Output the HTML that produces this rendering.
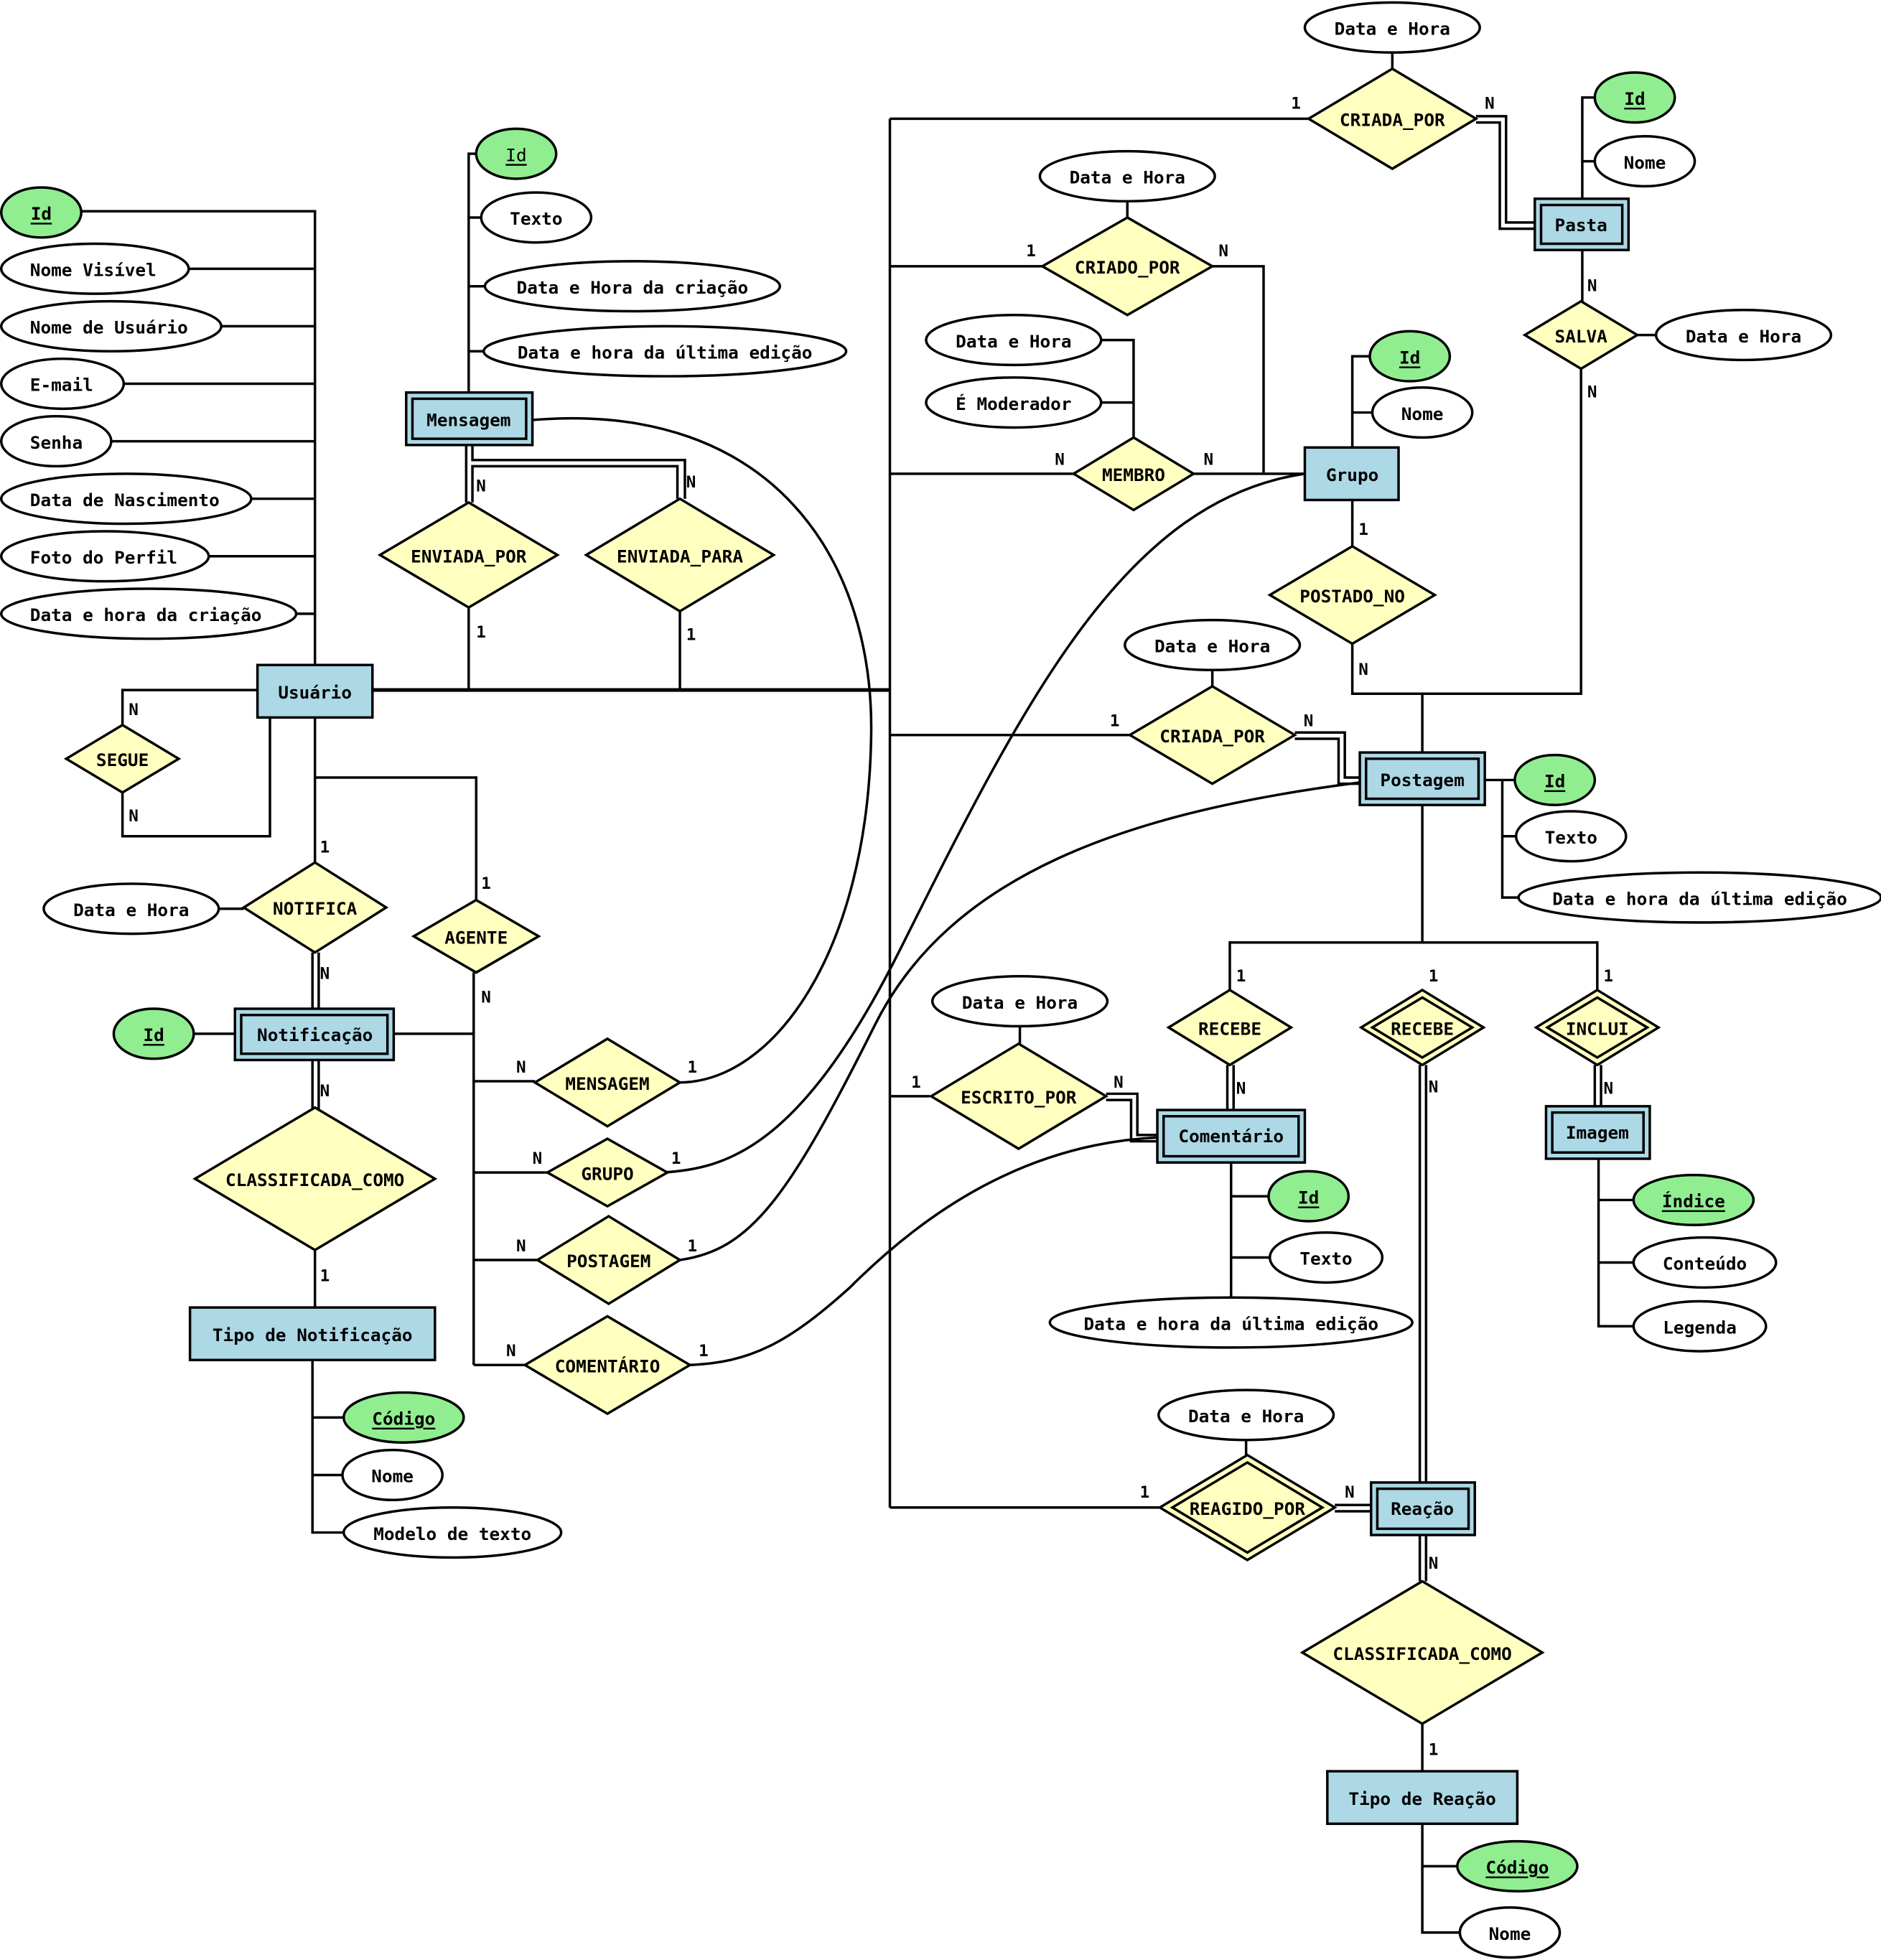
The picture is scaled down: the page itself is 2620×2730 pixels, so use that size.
<!DOCTYPE html>
<html><head><meta charset="utf-8"><style>
html,body{margin:0;padding:0;background:#fff}
svg{display:block}
text{font-family:"DejaVu Sans Mono","Liberation Mono",monospace;font-weight:bold;font-size:14px;fill:#000}
.l{font-size:13px}
</style></head><body>
<svg width="2620" height="2730" viewBox="0 0 1505 1568" preserveAspectRatio="none" xmlns="http://www.w3.org/2000/svg">
<g fill="none" stroke="#000" stroke-width="2">
<!-- Usuario attrs -->
<path d="M65,169H252V532M150,215H252M177,261H252M99,307H252M89,353H252M201,399H252M167,445H252M237,491H252"/>
<!-- Usuario main line -->
<path d="M298,552H712" stroke-width="3"/>
<path d="M712,95V1206"/>
<!-- SEGUE -->
<path d="M206,552H98V580M98,634V669H216V574"/>
<!-- Mensagem attrs -->
<path d="M375,314V123H381M375,174H385M375,229H388M375,281H387"/>
<path d="M373,356V402M378,356V368H548V399M542,399V373H378V402"/>
<path d="M375,486V552M544,489V552"/>
<path d="M426,336C620,320 700,450 697,590C694,760 620,866 543,866"/>
<!-- top CRIADA_POR -->
<path d="M712,95H1048M1114,42V55M1181,93H1205V178H1228M1181,98H1200V183H1228"/>
<path d="M1266,159V78H1276M1266,129H1276M1266,200V241M1310,268H1325M1265,295V555H1082V515M1138,555V602"/>
<!-- CRIADO_POR -->
<path d="M712,213H834M902,161V174M970,213H1011V378"/>
<!-- MEMBRO -->
<path d="M712,379H860M881,272H907V350M881,322H907M955,379H1044"/>
<path d="M1082,358V285H1096M1082,330H1098M1082,400V437"/>
<path d="M1044,379C900,400 820,560 720,760C640,920 580,935 530,938"/>
<!-- CRIADA_POR 3 -->
<path d="M712,588H904M970,536V549M1036,586H1076V622H1088M1036,591H1071V627H1088"/>
<path d="M1188,624H1213M1202,624V718H1215M1202,669H1213"/>
<path d="M1088,626C900,650 760,700 700,820C630,960 600,1000 544,1008"/>
<path d="M1138,644V754M984,792V754H1278V792"/>
<path d="M982,852V888M987,852V888M1136,852V1186M1141,852V1186M1276,852V885M1281,852V885"/>
<path d="M985,930V1038M985,957H1015M985,1006H1016"/>
<path d="M1279,927V1061H1307M1279,960H1307M1279,1010H1307"/>
<!-- ESCRITO_POR -->
<path d="M712,877H744M816,821V835M885,875H910V908H926M885,880H905V913H926"/>
<path d="M926,910C820,915 740,970 680,1030C630,1075 600,1090 552,1092"/>
<!-- REAGIDO_POR -->
<path d="M712,1206H928M997,1152V1164M1068,1204H1097M1068,1209H1097"/>
<path d="M1136,1228V1265M1141,1228V1265M1138,1379V1417M1138,1459V1546H1168M1138,1493H1166"/>
<!-- left middle -->
<path d="M252,574V690M252,622H381V720M175,727H195M250,762V807M255,762V807"/>
<path d="M155,827H188M315,827H379" />
<path d="M379,778V1092M379,865H428M379,938H438M379,1008H430M379,1092H420"/>
<path d="M250,848V887M255,848V887M252,1000V1046M250,1088V1226H275M250,1134H275M250,1180H274"/>
</g>
<!-- ellipses -->
<g stroke="#000" stroke-width="2">
<g fill="#90ee90">
<ellipse cx="33" cy="170" rx="32" ry="20"/><ellipse cx="413" cy="123" rx="32" ry="20"/>
<ellipse cx="1308" cy="78" rx="32" ry="20"/><ellipse cx="1128" cy="285" rx="32" ry="20"/>
<ellipse cx="1244" cy="624" rx="32" ry="20"/><ellipse cx="1047" cy="957" rx="32" ry="20"/>
<ellipse cx="1355" cy="960" rx="48" ry="20"/><ellipse cx="1214" cy="1493" rx="48" ry="20"/>
<ellipse cx="123" cy="827" rx="32" ry="20"/><ellipse cx="323" cy="1134" rx="48" ry="20"/>
</g>
<g fill="#fff">
<ellipse cx="76" cy="215" rx="75" ry="20"/><ellipse cx="89" cy="261" rx="88" ry="20"/>
<ellipse cx="50" cy="307" rx="49" ry="20"/><ellipse cx="45" cy="353" rx="44" ry="20"/>
<ellipse cx="101" cy="399" rx="100" ry="20"/><ellipse cx="84" cy="445" rx="83" ry="20"/>
<ellipse cx="119" cy="491" rx="118" ry="20"/>
<ellipse cx="429" cy="174" rx="44" ry="20"/><ellipse cx="506" cy="229" rx="118" ry="20"/>
<ellipse cx="532" cy="281" rx="145" ry="20"/>
<ellipse cx="1114" cy="22" rx="70" ry="20"/><ellipse cx="1316" cy="129" rx="40" ry="20"/>
<ellipse cx="1395" cy="268" rx="70" ry="20"/><ellipse cx="902" cy="141" rx="70" ry="20"/>
<ellipse cx="811" cy="272" rx="70" ry="20"/><ellipse cx="811" cy="322" rx="70" ry="20"/>
<ellipse cx="1138" cy="330" rx="40" ry="20"/><ellipse cx="970" cy="516" rx="70" ry="20"/>
<ellipse cx="1257" cy="669" rx="44" ry="20"/><ellipse cx="1360" cy="718" rx="145" ry="20"/>
<ellipse cx="1061" cy="1006" rx="45" ry="20"/><ellipse cx="985" cy="1058" rx="145" ry="20"/>
<ellipse cx="1364" cy="1010" rx="57" ry="20"/><ellipse cx="1360" cy="1061" rx="53" ry="20"/>
<ellipse cx="816" cy="801" rx="70" ry="20"/><ellipse cx="997" cy="1132" rx="70" ry="20"/>
<ellipse cx="1208" cy="1546" rx="40" ry="20"/>
<ellipse cx="105" cy="727" rx="70" ry="20"/><ellipse cx="314" cy="1180" rx="40" ry="20"/>
<ellipse cx="362" cy="1226" rx="87" ry="20"/>
</g>
<!-- diamonds -->
<g fill="#ffffc0">
<polygon points="98,580 143,607 98,634 53,607"/>
<polygon points="375,402 446,444 375,486 304,444"/>
<polygon points="544,399 619,444 544,489 469,444"/>
<polygon points="1114,55 1181,95 1114,135 1047,95"/>
<polygon points="1265,241 1310,268 1265,295 1220,268"/>
<polygon points="902,174 970,213 902,252 834,213"/>
<polygon points="907,350 955,379 907,408 859,379"/>
<polygon points="1082,437 1148,476 1082,515 1016,476"/>
<polygon points="970,549 1036,588 970,627 904,588"/>
<polygon points="984,792 1033,822 984,852 935,822"/>
<polygon points="1138,792 1187,822 1138,852 1089,822"/>
<polygon points="1278,792 1327,822 1278,852 1229,822"/>
<polygon points="815,835 885,877 815,919 745,877"/>
<polygon points="998,1164 1068,1206 998,1248 928,1206"/>
<polygon points="1138,1265 1234,1322 1138,1379 1042,1322"/>
<polygon points="252,690 309,726 252,762 195,726"/>
<polygon points="381,720 431,749 381,778 331,749"/>
<polygon points="486,831 544,866 486,901 428,866"/>
<polygon points="486,911 534,938 486,965 438,938"/>
<polygon points="487,973 544,1008 487,1043 430,1008"/>
<polygon points="486,1053 552,1092 486,1131 420,1092"/>
<polygon points="252,886 348,943 252,1000 156,943"/>
</g>
<g fill="none">
<polygon points="1138,798 1178,822 1138,846 1098,822"/>
<polygon points="1278,798 1318,822 1278,846 1238,822"/>
<polygon points="998,1170 1058,1206 998,1242 938,1206"/>
</g>
<!-- entities -->
<g fill="#add8e6">
<rect x="206" y="532" width="92" height="42"/>
<rect x="325" y="314" width="101" height="42"/>
<rect x="1228" y="159" width="75" height="41"/>
<rect x="1044" y="358" width="75" height="42"/>
<rect x="1088" y="602" width="100" height="42"/>
<rect x="926" y="888" width="118" height="42"/>
<rect x="1237" y="885" width="83" height="42"/>
<rect x="1097" y="1186" width="83" height="42"/>
<rect x="1062" y="1417" width="152" height="42"/>
<rect x="188" y="807" width="127" height="41"/>
<rect x="152" y="1046" width="196" height="42"/>
</g>
<g fill="none">
<rect x="330" y="319" width="91" height="32"/>
<rect x="1233" y="164" width="65" height="31"/>
<rect x="1093" y="607" width="90" height="32"/>
<rect x="931" y="893" width="108" height="32"/>
<rect x="1242" y="890" width="73" height="32"/>
<rect x="1102" y="1191" width="73" height="32"/>
<rect x="193" y="812" width="117" height="31"/>
</g>
</g>
<!-- text -->
<g dominant-baseline="central">
<g>
<text x="24" y="216">Nome Visível</text><text x="24" y="262">Nome de Usuário</text>
<text x="24" y="308">E-mail</text><text x="24" y="354">Senha</text>
<text x="24" y="400">Data de Nascimento</text><text x="24" y="446">Foto do Perfil</text>
<text x="24" y="492">Data e hora da criação</text>
</g>
<g text-anchor="middle">
<text x="33" y="171" text-decoration="underline">Id</text>
<text x="413" y="124" text-decoration="underline" style="font-weight:normal">Id</text>
<text x="429" y="175">Texto</text><text x="506" y="230">Data e Hora da criação</text>
<text x="532" y="282">Data e hora da última edição</text>
<text x="1114" y="23">Data e Hora</text>
<text x="1308" y="79" text-decoration="underline">Id</text><text x="1316" y="130">Nome</text>
<text x="1395" y="269">Data e Hora</text><text x="902" y="142">Data e Hora</text>
<text x="811" y="273">Data e Hora</text><text x="811" y="323">É Moderador</text>
<text x="1128" y="286" text-decoration="underline">Id</text><text x="1138" y="331">Nome</text>
<text x="970" y="517">Data e Hora</text>
<text x="1244" y="625" text-decoration="underline">Id</text><text x="1257" y="670">Texto</text>
<text x="1360" y="719">Data e hora da última edição</text>
<text x="1047" y="958" text-decoration="underline">Id</text><text x="1061" y="1007">Texto</text>
<text x="985" y="1059">Data e hora da última edição</text>
<text x="1355" y="961" text-decoration="underline">Índice</text><text x="1364" y="1011">Conteúdo</text>
<text x="1360" y="1062">Legenda</text>
<text x="816" y="802">Data e Hora</text><text x="997" y="1133">Data e Hora</text>
<text x="1214" y="1494" text-decoration="underline">Código</text><text x="1208" y="1547">Nome</text>
<text x="105" y="728">Data e Hora</text>
<text x="123" y="828" text-decoration="underline">Id</text>
<text x="323" y="1135" text-decoration="underline">Código</text><text x="314" y="1181">Nome</text>
<text x="362" y="1227">Modelo de texto</text>
<!-- entities -->
<text x="252" y="554">Usuário</text><text x="375" y="336">Mensagem</text>
<text x="1265" y="180">Pasta</text><text x="1082" y="380">Grupo</text>
<text x="1138" y="624">Postagem</text><text x="985" y="909">Comentário</text>
<text x="1278" y="906">Imagem</text><text x="1138" y="1207">Reação</text>
<text x="1138" y="1439">Tipo de Reação</text><text x="252" y="828">Notificação</text>
<text x="250" y="1068">Tipo de Notificação</text>
<!-- relationships -->
<text x="98" y="608">SEGUE</text><text x="375" y="445">ENVIADA_POR</text>
<text x="544" y="445">ENVIADA_PARA</text><text x="1114" y="96">CRIADA_POR</text>
<text x="1265" y="269">SALVA</text><text x="902" y="214">CRIADO_POR</text>
<text x="907" y="380">MEMBRO</text><text x="1082" y="477">POSTADO_NO</text>
<text x="970" y="589">CRIADA_POR</text><text x="984" y="823">RECEBE</text>
<text x="1138" y="823">RECEBE</text><text x="1278" y="823">INCLUI</text>
<text x="815" y="878">ESCRITO_POR</text><text x="998" y="1207">REAGIDO_POR</text>
<text x="1138" y="1323">CLASSIFICADA_COMO</text><text x="252" y="727">NOTIFICA</text>
<text x="381" y="750">AGENTE</text><text x="486" y="867">MENSAGEM</text>
<text x="486" y="939">GRUPO</text><text x="487" y="1009">POSTAGEM</text>
<text x="486" y="1093">COMENTÁRIO</text><text x="252" y="944">CLASSIFICADA_COMO</text>
</g>
<!-- cardinalities -->
<g class="l">
<text class="l" x="103" y="568">N</text><text class="l" x="103" y="653">N</text>
<text class="l" x="381" y="389">N</text><text class="l" x="549" y="386">N</text>
<text class="l" x="381" y="506">1</text><text class="l" x="549" y="508">1</text>
<text class="l" x="1033" y="83">1</text><text class="l" x="1188" y="83">N</text>
<text class="l" x="1270" y="229">N</text><text class="l" x="1270" y="314">N</text>
<text class="l" x="821" y="201">1</text><text class="l" x="975" y="201">N</text>
<text class="l" x="844" y="368">N</text><text class="l" x="963" y="368">N</text>
<text class="l" x="1087" y="424">1</text><text class="l" x="1087" y="536">N</text>
<text class="l" x="888" y="577">1</text><text class="l" x="1043" y="577">N</text>
<text class="l" x="989" y="781">1</text><text class="l" x="1143" y="781">1</text>
<text class="l" x="1283" y="781">1</text>
<text class="l" x="989" y="871">N</text><text class="l" x="1143" y="870">N</text>
<text class="l" x="1283" y="871">N</text>
<text class="l" x="729" y="866">1</text><text class="l" x="891" y="866">N</text>
<text class="l" x="912" y="1194">1</text><text class="l" x="1076" y="1194">N</text>
<text class="l" x="1143" y="1251">N</text><text class="l" x="1143" y="1400">1</text>
<text class="l" x="256" y="678">1</text><text class="l" x="385" y="707">1</text>
<text class="l" x="256" y="779">N</text><text class="l" x="385" y="798">N</text>
<text class="l" x="256" y="873">N</text><text class="l" x="256" y="1021">1</text>
<text class="l" x="413" y="854">N</text><text class="l" x="550" y="854">1</text>
<text class="l" x="426" y="927">N</text><text class="l" x="537" y="927">1</text>
<text class="l" x="413" y="997">N</text><text class="l" x="550" y="997">1</text>
<text class="l" x="405" y="1081">N</text><text class="l" x="559" y="1081">1</text>
</g>
</g>
</svg>
</body></html>
